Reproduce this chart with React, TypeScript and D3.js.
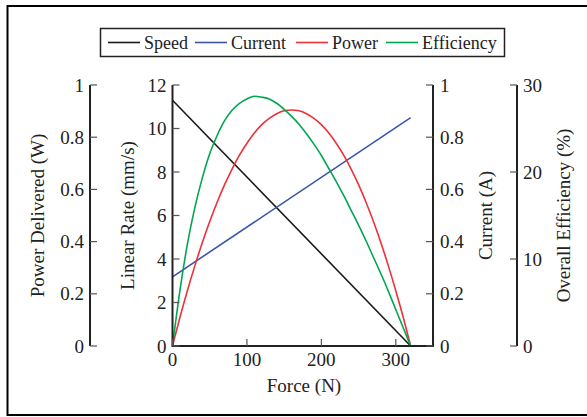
import React from "react";
import * as d3 from "d3";

const forceSamples = [
  0, 10, 20, 30, 40, 50, 60, 70, 80, 90, 100, 110, 120, 130, 140, 150, 160,
  170, 180, 190, 200, 210, 220, 230, 240, 250, 260, 270, 280, 290, 300, 310, 320,
];
const powerW = [
  0, 0.11, 0.212, 0.307, 0.396, 0.477, 0.551, 0.618, 0.678, 0.731, 0.777, 0.816,
  0.848, 0.872, 0.89, 0.901, 0.904, 0.901, 0.89, 0.872, 0.848, 0.816, 0.777,
  0.731, 0.678, 0.618, 0.551, 0.477, 0.396, 0.307, 0.212, 0.11, 0,
];
const efficiencyPct = [
  0, 6.4, 11.7, 15.9, 19.3, 22.1, 24.2, 25.9, 27.1, 27.9, 28.4, 28.7, 28.6,
  28.4, 27.9, 27.2, 26.4, 25.5, 24.4, 23.2, 21.9, 20.4, 18.9, 17.3, 15.6, 13.9,
  12.1, 10.2, 8.3, 6.3, 4.2, 2.1, 0,
];
const speedForce = [0, 320];
const speedMmS = [11.3, 0];
const currentForce = [0, 320];
const currentA = [0.265, 0.875];

const forceTicks = [0, 100, 200, 300];
const rateTicks = [0, 2, 4, 6, 8, 10, 12];
const unitTicks = [0, 0.2, 0.4, 0.6, 0.8, 1];
const effTicks = [0, 10, 20, 30];

const legendItems = [
  { name: "Speed", color: "#1a1a1a" },
  { name: "Current", color: "#3a55a6" },
  { name: "Power", color: "#ee3038" },
  { name: "Efficiency", color: "#00a651" },
];

const W = 587;
const H = 417;
const FONT = "'Liberation Serif', 'Times New Roman', serif";
const AXIS = "#222";
const FS = 19;

export default function App() {
  const x = d3.scaleLinear().domain([0, 350]).range([172.5, 433]);
  const yRate = d3.scaleLinear().domain([0, 12]).range([346, 85]);
  const yUnit = d3.scaleLinear().domain([0, 1]).range([346, 85]);
  const yEff = d3.scaleLinear().domain([0, 30]).range([346, 85]);

  const mk = (fx: number[], vy: number[], ys: d3.ScaleLinear<number, number>) =>
    d3
      .line<number>()
      .x((_, i) => x(fx[i]))
      .y((v) => ys(v))
      .curve(d3.curveMonotoneX)(vy) || "";

  const speedPath = mk(speedForce, speedMmS, yRate);
  const currentPath = mk(currentForce, currentA, yUnit);
  const powerPath = mk(forceSamples, powerW, yUnit);
  const effPath = mk(forceSamples, efficiencyPct, yEff);

  const fmt = (v: number) => (v === 0 || v === 1 ? String(v) : v.toFixed(1));
  const midY = (yRate(0) + yRate(12)) / 2;

  // legend positions
  const legX = [108, 195, 296, 386];

  return (
    <svg
      width={W}
      height={H}
      style={{ position: "absolute", left: 0, top: 0, background: "#fff" }}
      fontFamily={FONT}
    >
      {/* outer frame */}
      <path d={`M7.5,415 L7.5,6 L587,6 M6.5,415 L587,415`} fill="none" stroke="#000" strokeWidth={2} />

      {/* legend */}
      <rect x={100.5} y={28.5} width={404} height={28} fill="#fff" stroke={AXIS} strokeWidth={1.5} />
      {legendItems.map((d, i) => (
        <g key={d.name}>
          <line x1={legX[i]} x2={legX[i] + 32} y1={42.5} y2={42.5} stroke={d.color} strokeWidth={1.6} />
          <text x={legX[i] + 36} y={43} dominantBaseline="central" fontSize={18} fill="#222">
            {d.name}
          </text>
        </g>
      ))}

      {/* curves */}
      <path d={speedPath} fill="none" stroke={legendItems[0].color} strokeWidth={1.6} />
      <path d={currentPath} fill="none" stroke={legendItems[1].color} strokeWidth={1.6} />
      <path d={powerPath} fill="none" stroke={legendItems[2].color} strokeWidth={1.6} />
      <path d={effPath} fill="none" stroke={legendItems[3].color} strokeWidth={1.6} />

      {/* main axes: left, bottom, right */}
      <path
        d={`M${x(0)},${yRate(12)} L${x(0)},${yRate(0)} L${x(350)},${yRate(0)} L${x(350)},${yRate(12)}`}
        fill="none"
        stroke={AXIS}
        strokeWidth={2}
      />
      {rateTicks.map((t) => (
        <g key={"r" + t}>
          <line x1={x(0)} x2={x(0) + 7} y1={yRate(t)} y2={yRate(t)} stroke="#555" strokeWidth={1.2} />
          <text x={x(0) - 6} y={yRate(t)} textAnchor="end" dominantBaseline="central" fontSize={FS} fill="#222">
            {t}
          </text>
        </g>
      ))}
      {unitTicks.map((t) => (
        <g key={"c" + t}>
          <line x1={x(350)} x2={x(350) - 7} y1={yUnit(t)} y2={yUnit(t)} stroke="#555" strokeWidth={1.2} />
          <text x={x(350) + 7} y={yUnit(t)} textAnchor="start" dominantBaseline="central" fontSize={FS} fill="#222">
            {fmt(t)}
          </text>
        </g>
      ))}
      {forceTicks.map((t) => (
        <g key={"f" + t}>
          <line x1={x(t)} x2={x(t)} y1={yRate(0)} y2={yRate(0) - 7} stroke="#555" strokeWidth={1.2} />
          <text x={x(t)} y={359} textAnchor="middle" dominantBaseline="central" fontSize={FS} fill="#222">
            {t}
          </text>
        </g>
      ))}
      <text x={304} y={385} textAnchor="middle" dominantBaseline="central" fontSize={FS} fill="#222">
        Force (N)
      </text>
      <text
        transform={`translate(127,${midY}) rotate(-90)`}
        textAnchor="middle"
        dominantBaseline="central"
        fontSize={FS}
        fill="#222"
      >
        Linear Rate (mm/s)
      </text>
      <text
        transform={`translate(485,${midY}) rotate(-90)`}
        textAnchor="middle"
        dominantBaseline="central"
        fontSize={FS}
        fill="#222"
      >
        Current (A)
      </text>

      {/* power delivered axis (far left) */}
      <line x1={90} x2={90} y1={yUnit(0)} y2={yUnit(1)} stroke={AXIS} strokeWidth={2} />
      {unitTicks.map((t) => (
        <g key={"p" + t}>
          <line x1={90} x2={97} y1={yUnit(t)} y2={yUnit(t)} stroke="#555" strokeWidth={1.2} />
          <text x={84} y={yUnit(t)} textAnchor="end" dominantBaseline="central" fontSize={FS} fill="#222">
            {fmt(t)}
          </text>
        </g>
      ))}
      <text
        transform={`translate(37,${midY}) rotate(-90)`}
        textAnchor="middle"
        dominantBaseline="central"
        fontSize={FS}
        fill="#222"
      >
        Power Delivered (W)
      </text>

      {/* efficiency axis (far right) */}
      <line x1={517} x2={517} y1={yEff(0)} y2={yEff(30)} stroke={AXIS} strokeWidth={2} />
      {effTicks.map((t) => (
        <g key={"e" + t}>
          <line x1={517} x2={510} y1={yEff(t)} y2={yEff(t)} stroke="#555" strokeWidth={1.2} />
          <text x={523} y={yEff(t)} textAnchor="start" dominantBaseline="central" fontSize={FS} fill="#222">
            {t}
          </text>
        </g>
      ))}
      <text
        transform={`translate(563,${midY}) rotate(-90)`}
        textAnchor="middle"
        dominantBaseline="central"
        fontSize={FS}
        fill="#222"
      >
        Overall Efficiency (%)
      </text>
    </svg>
  );
}
